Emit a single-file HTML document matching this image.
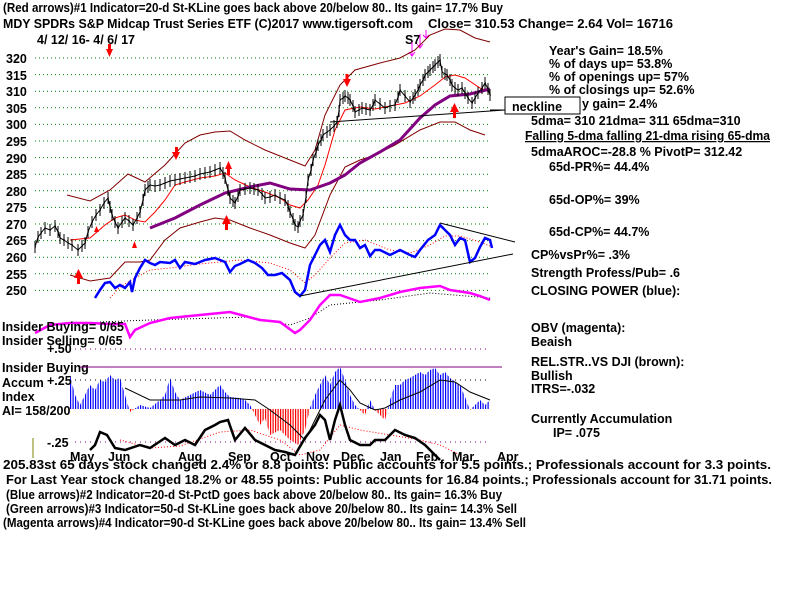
<!DOCTYPE html>
<html><head><meta charset="utf-8"><style>
html,body{margin:0;padding:0;background:#fff;}
svg{display:block}
text{font-family:"Liberation Sans",sans-serif;font-size:12.5px;font-weight:bold;fill:#000}
</style></head><body>
<svg width="800" height="600" viewBox="0 0 800 600" xmlns="http://www.w3.org/2000/svg">
<defs>
<pattern id="bs" width="2.5" height="10" patternUnits="userSpaceOnUse"><rect x="0" y="0" width="1.2" height="10" fill="#0000ff"/></pattern>
<pattern id="rs" width="2.5" height="10" patternUnits="userSpaceOnUse"><rect x="0" y="0" width="1.2" height="10" fill="#ff0000"/></pattern>
<clipPath id="top"><rect x="0" y="300" width="800" height="109"/></clipPath>
<clipPath id="bot"><rect x="0" y="409" width="800" height="60"/></clipPath>
<marker id="tk" markerWidth="2" markerHeight="12" refX="1" refY="6" markerUnits="userSpaceOnUse" orient="0"><line x1="1" y1="0" x2="1" y2="12" stroke="#000" stroke-width="1"/><line x1="1" y1="6" x2="2" y2="6" stroke="#000"/></marker>
</defs>
<g stroke="#008000" stroke-dasharray="1,3" stroke-width="1">
<line x1="35" x2="490" y1="58" y2="58"/><line x1="35" x2="490" y1="74.6" y2="74.6"/><line x1="35" x2="490" y1="91.2" y2="91.2"/><line x1="35" x2="490" y1="107.8" y2="107.8"/><line x1="35" x2="490" y1="124.4" y2="124.4"/><line x1="35" x2="490" y1="141" y2="141"/><line x1="35" x2="490" y1="157.6" y2="157.6"/><line x1="35" x2="490" y1="174.2" y2="174.2"/><line x1="35" x2="490" y1="190.8" y2="190.8"/><line x1="35" x2="490" y1="207.4" y2="207.4"/><line x1="35" x2="490" y1="224" y2="224"/><line x1="35" x2="490" y1="240.6" y2="240.6"/><line x1="35" x2="490" y1="257.2" y2="257.2"/><line x1="35" x2="490" y1="273.8" y2="273.8"/><line x1="35" x2="490" y1="290.4" y2="290.4"/>
</g>
<g font-size="13">
<text x="6" y="63">320</text><text x="6" y="80">315</text><text x="6" y="96">310</text><text x="6" y="113">305</text>
<text x="6" y="129">300</text><text x="6" y="146">295</text><text x="6" y="163">290</text><text x="6" y="179">285</text>
<text x="6" y="196">280</text><text x="6" y="212">275</text><text x="6" y="229">270</text><text x="6" y="245">265</text>
<text x="6" y="262">260</text><text x="6" y="279">255</text><text x="6" y="295">250</text>
</g>
<text x="3" y="12" textLength="500" lengthAdjust="spacingAndGlyphs">(Red arrows)#1 Indicator=20-d St-KLine goes back above 20/below 80.. Its gain= 17.7% Buy</text>
<text x="3" y="28" textLength="410" lengthAdjust="spacingAndGlyphs">MDY   SPDRs S&amp;P Midcap Trust Series ETF   (C)2017 www.tigersoft.com</text>
<text x="428" y="28" textLength="245" lengthAdjust="spacingAndGlyphs">Close=  310.53  Change= 2.64 Vol= 16716</text>
<text x="37" y="44">4/ 12/ 16- 4/ 6/ 17</text>
<text x="405" y="44" font-size="14" font-weight="normal">S7</text>
<g stroke="#ff00ff" fill="none"><path d="M412,42 v14 M409,52 l3,4 l3,-4 M420,34 v14 M417,44 l3,4 l3,-4 M426,30 v8 M423,35 l3,3 l3,-3"/></g>
<g fill="none" stroke-width="1">
<polyline stroke="#800000" points="67,195 90,201 110,190 128,174 145,182 165,165 185,143 200,135 215,132 230,131 245,140 265,150 290,160 305,166 315,150 325,115 340,85 355,70 380,63 400,58 415,50 430,35 445,29 460,30 475,38 490,42"/>
<polyline stroke="#800000" points="70,275 90,281 110,278 125,262 140,262 150,260 165,240 180,228 200,222 215,218 230,220 250,228 270,235 290,243 305,248 315,235 330,195 345,167 360,160 375,155 395,145 420,130 440,122 455,122 470,130 485,135"/>
<polyline stroke="#ff0000" points="70,240 90,238 105,225 115,218 125,215 135,220 145,222 155,212 165,200 175,185 185,182 200,178 215,176 225,173 235,180 250,187 265,192 280,198 290,205 300,208 308,200 318,185 325,165 335,130 345,110 360,107 375,109 390,106 405,103 420,96 435,85 445,77 455,75 465,78 480,88 490,92"/>
<polyline stroke="#800080" stroke-width="3" points="150,228 175,218 200,205 225,193 250,187 270,183 290,189 310,190 330,183 345,175 360,163 380,152 400,140 420,118 435,105 450,96 470,94 490,89"/>
<polyline stroke="#000" points="330,122 505,110"/>
<polyline stroke="#000" marker-start="url(#tk)" marker-mid="url(#tk)" marker-end="url(#tk)" points="35,247 38,237 41,233 45,228 50,230 55,226 58,232 60,238 64,240 68,243 72,245 78,250 82,246 85,243 88,232 92,222 96,215 100,210 104,203 108,198 110,207 112,215 115,222 118,228 122,222 125,218 129,221 133,225 137,218 140,212 143,200 145,190 148,187 150,185 155,186 160,185 165,183 170,181 175,180 180,179 185,178 190,177 195,176 200,174 205,173 210,172 215,170 220,168 223,173 225,178 228,190 230,198 233,201 235,203 238,196 240,190 245,189 250,188 254,189 258,190 262,194 265,198 270,197 275,195 280,198 285,200 288,206 290,212 293,219 295,225 298,227 300,221 303,215 306,197 308,180 311,170 313,160 316,152 318,145 321,140 323,135 327,132 330,130 334,126 337,122 339,111 340,100 343,98 345,96 348,98 350,100 353,106 355,112 359,110 362,108 366,109 370,110 373,105 375,100 380,104 385,108 390,106 395,105 398,97 400,90 405,96 410,102 413,98 415,95 418,90 420,85 423,80 425,75 428,72 430,70 433,67 435,65 438,62 440,60 442,72 445,74 447,75 450,80 452,85 455,88 458,90 462,88 465,93 468,98 472,103 475,98 478,93 482,88 485,83 488,89 490,95"/>
<polyline stroke="#ff0000" stroke-dasharray="1,2" points="110,298 120,287 135,278 150,270 170,268 200,264 240,260 270,263 290,270 305,283 315,275 330,258 345,243 365,240 390,250 410,253 430,245 445,236 460,236 480,242 490,246"/>
<polyline stroke="#0000ff" stroke-width="2.5" points="95,298 100,290 105,283 110,282 115,288 120,285 125,288 130,282 132,292 135,278 140,268 145,260 150,263 155,265 160,262 170,263 175,260 180,268 185,262 195,264 205,260 215,258 225,262 230,272 235,266 240,264 248,260 255,263 262,268 268,275 275,275 282,273 290,280 295,292 300,296 305,290 310,265 315,255 320,245 325,240 330,252 335,235 340,225 345,235 350,240 355,240 360,248 365,245 370,256 375,250 380,250 390,255 400,250 410,255 415,257 420,250 428,240 435,235 440,225 445,230 450,235 455,245 460,238 465,240 470,262 475,258 480,247 485,238 490,240 492,248"/>
<polyline stroke="#000" points="300,296 513,254"/>
<polyline stroke="#000" points="440,223 515,242"/>
<polyline stroke="#000" stroke-dasharray="1,2" points="100,322 150,320 250,317 290,325 310,318 330,305 380,300 430,293 490,298"/>
<polyline stroke="#ff00ff" stroke-width="2.5" points="35,333 50,325 70,323 90,323 110,324 125,324 130,337 135,330 150,323 170,318 200,315 230,312 260,320 280,322 295,333 300,330 310,320 320,305 330,295 340,295 360,302 380,298 400,292 420,288 440,286 450,290 470,293 480,296 490,300"/>
</g>
<g fill="#ff0000">
<polygon points="106,49 113,49 109.5,57"/><rect x="108" y="44" width="3" height="6"/>
<polygon points="172,152 180,152 176,160"/><rect x="175" y="147" width="3" height="6"/>
<polygon points="343,79 351,79 347,87"/><rect x="345.5" y="74" width="3" height="6"/>
<polygon points="225,169 232,169 228.5,161"/><rect x="227" y="169" width="3" height="6"/>
<polygon points="222,224 231,224 226.5,215"/><rect x="225" y="224" width="3" height="6"/>
<polygon points="74,278 83,278 78.5,269"/><rect x="77" y="278" width="3" height="6"/>
<polygon points="450,112 459,112 454.5,103"/><rect x="453" y="112" width="3" height="6"/>
<polygon points="94,232 99,232 96.5,226"/><polygon points="132,248 137,248 134.5,241"/>
</g>
<rect x="505" y="97" width="75" height="17" fill="#fff" stroke="#000"/>
<text x="512" y="111" font-size="14" font-weight="normal">neckline</text>
<line x1="490" y1="110" x2="505" y2="110" stroke="#000"/>
<text x="549" y="55">Year's Gain= 18.5%</text>
<text x="549" y="68">% of days up= 53.8%</text>
<text x="549" y="81">% of openings up= 57%</text>
<text x="549" y="94">% of closings up= 52.6%</text>
<text x="582" y="108">y gain= 2.4%</text>
<text x="531" y="125">5dma= 310 21dma= 311 65dma=310</text>
<text x="525" y="140" text-decoration="underline" textLength="245" lengthAdjust="spacingAndGlyphs">Falling 5-dma falling 21-dma rising 65-dma</text>
<text x="531" y="156">5dmaAROC=-28.8 %  PivotP= 312.42</text>
<text x="549" y="171">65d-PR%= 44.4%</text>
<text x="549" y="204">65d-OP%= 39%</text>
<text x="549" y="236">65d-CP%= 44.7%</text>
<text x="531" y="259">CP%vsPr%=  .3%</text>
<text x="531" y="277">Strength Profess/Pub= .6</text>
<text x="531" y="295">CLOSING POWER (blue):</text>
<text x="531" y="332">OBV (magenta):</text>
<text x="531" y="346">Beaish</text>
<text x="531" y="366">REL.STR..VS DJI (brown):</text>
<text x="531" y="380">Bullish</text>
<text x="531" y="393">ITRS=-.032</text>
<text x="531" y="423">Currently Accumulation</text>
<text x="553" y="437">IP=  .075</text>
<polygon clip-path="url(#top)" fill="url(#bs)" points="70,409 70,375 75,395 80,405 85,395 90,385 95,390 100,380 105,382 110,375 115,380 120,378 125,395 130,412 140,405 150,408 160,400 165,395 170,378 175,392 180,400 190,395 200,390 210,395 220,385 225,392 230,397 240,398 245,400 250,405 255,415 260,425 265,418 270,435 280,430 290,440 298,445 305,430 310,408 315,395 320,385 325,375 330,385 335,372 340,367 345,380 350,395 355,405 360,410 365,415 370,400 375,410 380,415 385,420 390,400 395,385 400,385 405,380 410,378 420,372 425,375 430,370 435,368 440,375 445,372 450,378 460,385 465,397 470,410 480,400 485,405 490,400 490,409"/>
<polygon clip-path="url(#bot)" fill="url(#rs)" points="70,409 70,375 75,395 80,405 85,395 90,385 95,390 100,380 105,382 110,375 115,380 120,378 125,395 130,412 140,405 150,408 160,400 165,395 170,378 175,392 180,400 190,395 200,390 210,395 220,385 225,392 230,397 240,398 245,400 250,405 255,415 260,425 265,418 270,435 280,430 290,440 298,445 305,430 310,408 315,395 320,385 325,375 330,385 335,372 340,367 345,380 350,395 355,405 360,410 365,415 370,400 375,410 380,415 385,420 390,400 395,385 400,385 405,380 410,378 420,372 425,375 430,370 435,368 440,375 445,372 450,378 460,385 465,397 470,410 480,400 485,405 490,400 490,409"/>
<text x="2" y="331">Insider Buying= 0/65</text>
<text x="2" y="345">Insider Selling= 0/65</text>
<text x="47" y="353">+.50</text>
<line x1="75" y1="349" x2="490" y2="349" stroke="#800080" stroke-dasharray="1,4"/>
<text x="2" y="372">Insider Buying</text>
<line x1="80" y1="367" x2="502" y2="367" stroke="#800080"/>
<text x="2" y="387">Accum</text><text x="47" y="385">+.25</text>
<line x1="75" y1="380" x2="490" y2="380" stroke="#000" stroke-dasharray="1,4"/>
<text x="2" y="401">Index</text>
<text x="2" y="415">AI= 158/200</text>
<line x1="75" y1="442" x2="490" y2="442" stroke="#800080" stroke-dasharray="1,4"/>
<text x="47" y="447">-.25</text>
<line x1="33" y1="438" x2="33" y2="458" stroke="#808000"/>
<g fill="none">
<polyline stroke="#000" points="125,388 150,400 180,400 200,397 230,398 255,400 270,410 290,425 305,440 315,420 325,400 340,380 350,390 360,403 375,410 385,408 400,400 420,392 440,380 455,382 470,392 490,400"/>
<polyline stroke="#ff0000" stroke-dasharray="1,2" points="120,440 150,448 180,446 220,432 250,430 280,440 300,455 320,450 340,425 360,430 390,435 420,440 440,445 460,455"/>
<polyline stroke="#000" stroke-width="2.5" points="90,450 95,445 100,432 107,435 115,448 125,450 140,445 150,448 165,438 175,445 185,440 195,445 205,430 215,425 220,422 228,420 235,440 245,428 255,440 265,445 275,450 285,452 295,455 305,438 315,425 320,415 325,420 330,440 335,420 340,405 345,425 350,440 360,445 370,445 375,440 385,440 395,430 405,435 415,438 425,445 435,455 440,460"/>
</g>
<text x="70" y="461">May</text><text x="108" y="461">Jun</text><text x="178" y="461">Aug</text><text x="228" y="461">Sep</text>
<text x="270" y="461">Oct</text><text x="306" y="461">Nov</text><text x="341" y="461">Dec</text><text x="380" y="461">Jan</text>
<text x="416" y="461">Feb</text><text x="452" y="461">Mar</text><text x="497" y="461">Apr</text>
<text x="3" y="469" textLength="768" lengthAdjust="spacingAndGlyphs">205.83st 65 days stock changed  2.4% or  8.8 points:  Public accounts for  5.5 points.;  Professionals account for  3.3 points.</text>
<text x="6" y="484" textLength="766" lengthAdjust="spacingAndGlyphs">For Last Year stock changed  18.2% or  48.55 points:  Public accounts for  16.84 points.;  Professionals account for  31.71 points.</text>
<text x="6" y="499" textLength="496" lengthAdjust="spacingAndGlyphs">(Blue arrows)#2 Indicator=20-d St-PctD goes back above 20/below 80.. Its gain= 16.3% Buy</text>
<text x="6" y="513" textLength="511" lengthAdjust="spacingAndGlyphs">(Green arrows)#3 Indicator=50-d St-KLine goes back above 20/below 80.. Its gain= 14.3% Sell</text>
<text x="3" y="527" textLength="523" lengthAdjust="spacingAndGlyphs">(Magenta arrows)#4 Indicator=90-d St-KLine goes back above 20/below 80.. Its gain= 13.4% Sell</text>
</svg>
</body></html>
